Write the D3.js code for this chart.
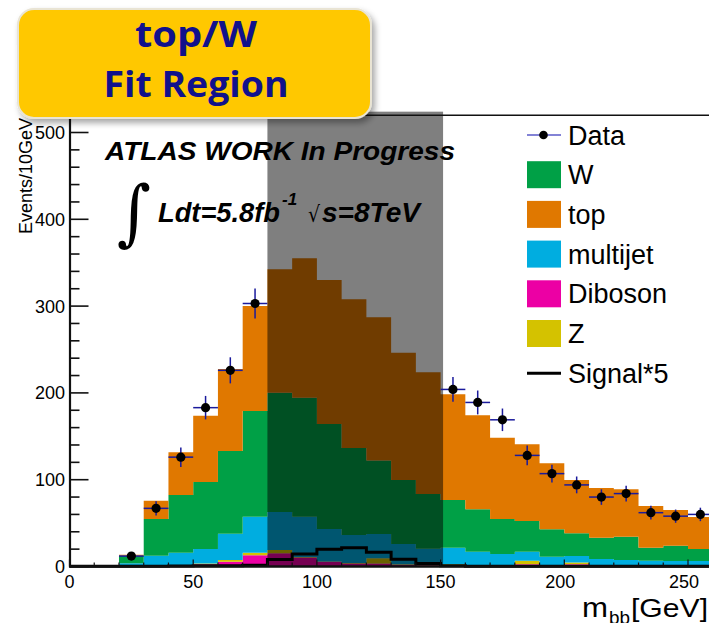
<!DOCTYPE html>
<html>
<head>
<meta charset="utf-8">
<script src="https://cdn.jsdelivr.net/npm/d3@7"></script>
<style>
  body { margin: 0; background: #fff; }
  svg { display: block; }
</style>
</head>
<body>
<svg id="chart" width="709" height="623"></svg>
<script>
// bin edges of the m_bb histogram (GeV)
const binEdges = [0, 10, 20, 30, 40, 50, 60, 70, 80, 90, 100, 110, 120, 130, 140, 150,
                  160, 170, 180, 190, 200, 210, 220, 230, 240, 250, 260]

// stacked backgrounds, one value per bin
const dibosonValues  = [0, 0, 0, 0.5, 1.5, 2.5, 5.5, 13, 15.2, 10.5, 5.5, 3.5, 3.5, 2, 1.5, 1.5, 0.5, 0.5, 2.5, 0.5, 2.5, 0.5, 0.5, 0.5, 0.5, 0.5]
const zValues        = [0, 0, 0, 0, 0.3, 1, 2, 2.7, 3.8, 0.5, 0.3, 0.5, 6, 0.5, 0.5, 1, 0.5, 0.5, 4.2, 0.5, 2, 0.3, 0.3, 0.3, 0.3, 0.3]
const multijetValues = [0, 0, 3.7, 11.9, 14.1, 16.7, 30.3, 41.7, 43.8, 46.4, 37.4, 32.3, 28, 23.4, 18.5, 19.2, 16.1, 13.4, 10.4, 10.3, 7.6, 7.8, 6.7, 5.9, 5.5, 5.5]
const wValues        = [0, 0, 8.7, 42.3, 66.5, 77.2, 95.2, 121.7, 137.4, 137.1, 121, 100.2, 84.5, 73.8, 63, 54.9, 48.8, 40.3, 35.3, 31.6, 26.1, 24.6, 26.8, 15, 17.7, 13.9]
const topValues      = [0, 0, 1.2, 21.1, 49.2, 76.3, 94.5, 121, 142.2, 160.5, 165.8, 171.3, 165.2, 146.6, 140.2, 121.8, 108.3, 93.7, 88.4, 76, 61.5, 57.3, 54.7, 48, 41, 36.8]

// signal scaled by 5, drawn as a line
const signalX5 = [0.3, 0.3, 0.3, 0.3, 0.5, 0.8, 1, 1.5, 8, 14.5, 20, 21.5, 16.5, 8.3, 3.5, 1, 0.3, 0.3, 0.3, 0.3, 0.3, 0.3, 0.3, 0.3, 0.3, 0.3]

// data counts (blinded in the shaded window)
const dataCounts = [null, null, 12, 67, 126, 183, 226, 303, null, null, null, null, null, null, null,
                    204, 189, 169, 128, 107, 94, 80, 84, 62, 58, 60]

const blindWindow = [80, 151]
const blindTop = 524
const frameTop = 520
const xTicks = [0, 50, 100, 150, 200, 250]
const yTicks = [0, 100, 200, 300, 400, 500]

const colors = {
    W: '#00a046',
    top: '#e07800',
    multijet: '#00ade0',
    Diboson: '#ec00a4',
    Z: '#d4c200',
}

const svg = d3.select('#chart')

const x = d3.scaleLinear().domain([0, 260]).range([69.5, 69.5 + 260 * 2.474])
const y = d3.scaleLinear().domain([0, 500]).range([566.5, 132.5])

// stacked histogram
const rows = binEdges.slice(0, -1).map((lo, i) => ({
    lo: lo,
    hi: binEdges[i + 1],
    Diboson: dibosonValues[i],
    Z: zValues[i],
    multijet: multijetValues[i],
    W: wValues[i],
    top: topValues[i],
}))
const stackKeys = ['Diboson', 'Z', 'multijet', 'W', 'top']
const series = d3.stack().keys(stackKeys)(rows)

const area = d3
    .area()
    .x((d) => x(d.x))
    .y0((d) => y(d.y0))
    .y1((d) => y(d.y1))
    .curve(d3.curveStepAfter)

const stepPoints = (s) => {
    const pts = s.map((d) => ({ x: d.data.lo, y0: d[0], y1: d[1] }))
    const last = s[s.length - 1]
    pts.push({ x: last.data.hi, y0: last[0], y1: last[1] })
    return pts
}

svg.append('g')
    .selectAll('path')
    .data(series)
    .enter()
    .append('path')
    .attr('d', (s) => area(stepPoints(s)))
    .attr('fill', (s) => colors[s.key])

// signal line
const sigPts = rows.map((r, i) => ({ x: r.lo, v: signalX5[i] }))
sigPts.push({ x: binEdges[binEdges.length - 1], v: signalX5[signalX5.length - 1] })
svg.append('path')
    .attr('d', d3.line().x((d) => x(d.x)).y((d) => y(d.v)).curve(d3.curveStepAfter)(sigPts))
    .attr('fill', 'none')
    .attr('stroke', '#000')
    .attr('stroke-width', 3)

// blinded window
svg.append('rect')
    .attr('x', x(blindWindow[0]))
    .attr('y', y(blindTop))
    .attr('width', x(blindWindow[1]) - x(blindWindow[0]))
    .attr('height', y(0) - y(blindTop))
    .attr('fill', '#000')
    .attr('fill-opacity', 0.5)

// frame / axes
const axes = svg.append('g').attr('stroke', '#111')
axes.append('line')
    .attr('x1', x(0)).attr('x2', 709)
    .attr('y1', y(frameTop)).attr('y2', y(frameTop))
    .attr('stroke-width', 1.5)
axes.append('line')
    .attr('x1', x(0) + 0.5).attr('x2', x(0) + 0.5)
    .attr('y1', y(frameTop)).attr('y2', y(0) + 1)
    .attr('stroke-width', 2.2)
axes.append('line')
    .attr('x1', x(0)).attr('x2', 709)
    .attr('y1', y(0)).attr('y2', y(0))
    .attr('stroke-width', 2.5)

// y ticks: majors every 100, minors every 20
const yMinor = d3.range(0, frameTop + 1, 20)
axes.selectAll('.ytick')
    .data(yMinor)
    .enter()
    .append('line')
    .attr('x1', x(0))
    .attr('x2', (d) => x(0) + (d % 100 === 0 ? 19 : 10))
    .attr('y1', (d) => y(d))
    .attr('y2', (d) => y(d))
    .attr('stroke-width', 1.6)

const xMinor = d3.range(0, 261, 10)
axes.selectAll('.xtick')
    .data(xMinor)
    .enter()
    .append('line')
    .attr('x1', (d) => x(d))
    .attr('x2', (d) => x(d))
    .attr('y1', y(0))
    .attr('y2', (d) => y(0) - (d % 50 === 0 ? 7 : 4))
    .attr('stroke-width', 1.2)

const labelFont = 'Liberation Sans, Arial, Helvetica, sans-serif'

svg.append('g')
    .selectAll('text')
    .data(yTicks)
    .enter()
    .append('text')
    .attr('x', 65)
    .attr('y', (d) => y(d) + 6.5)
    .attr('text-anchor', 'end')
    .attr('font-family', labelFont)
    .attr('font-size', 18)
    .text((d) => d)

svg.append('g')
    .selectAll('text')
    .data(xTicks)
    .enter()
    .append('text')
    .attr('x', (d) => x(d) - (d >= 200 ? 4 : 0))
    .attr('y', 588)
    .attr('text-anchor', 'middle')
    .attr('font-family', labelFont)
    .attr('font-size', 18)
    .text((d) => d)

svg.append('text')
    .attr('transform', 'translate(32,118) rotate(-90)')
    .attr('text-anchor', 'end')
    .attr('font-family', labelFont)
    .attr('font-size', 18)
    .text('Events/10GeV')

const xTitle = svg.append('g').attr('font-family', labelFont)
xTitle.append('text').attr('x', 582).attr('y', 617).attr('font-size', 27)
    .attr('textLength', 26).attr('lengthAdjust', 'spacingAndGlyphs').text('m')
xTitle.append('text').attr('x', 609).attr('y', 624).attr('font-size', 19)
    .attr('textLength', 21).attr('lengthAdjust', 'spacingAndGlyphs').text('bb')
xTitle.append('text').attr('x', 631).attr('y', 617).attr('font-size', 25)
    .attr('textLength', 77).attr('lengthAdjust', 'spacingAndGlyphs').text('[GeV]')

// data points with poisson errors
const dataPts = rows
    .map((r, i) => ({ lo: r.lo, hi: r.hi, n: dataCounts[i] }))
    .filter((d) => d.n !== null)

const dataG = svg.append('g')
dataG.selectAll('.eh')
    .data(dataPts)
    .enter()
    .append('line')
    .attr('x1', (d) => x(d.lo))
    .attr('x2', (d) => x(d.hi))
    .attr('y1', (d) => y(d.n))
    .attr('y2', (d) => y(d.n))
    .attr('stroke', '#1a1a9c')
    .attr('stroke-width', 1.5)
dataG.selectAll('.ev')
    .data(dataPts)
    .enter()
    .append('line')
    .attr('x1', (d) => x((d.lo + d.hi) / 2))
    .attr('x2', (d) => x((d.lo + d.hi) / 2))
    .attr('y1', (d) => y(d.n - Math.sqrt(d.n)))
    .attr('y2', (d) => y(d.n + Math.sqrt(d.n)))
    .attr('stroke', '#1a1a9c')
    .attr('stroke-width', 1.5)
dataG.selectAll('circle')
    .data(dataPts)
    .enter()
    .append('circle')
    .attr('cx', (d) => x((d.lo + d.hi) / 2))
    .attr('cy', (d) => y(d.n))
    .attr('r', 4.6)
    .attr('fill', '#000')

// ATLAS labels
const biFont = 'Liberation Sans, Arial, Helvetica, sans-serif'
svg.append('text')
    .attr('x', 105).attr('y', 160)
    .attr('font-family', biFont).attr('font-weight', 'bold').attr('font-style', 'italic')
    .attr('font-size', 25)
    .attr('textLength', 350).attr('lengthAdjust', 'spacingAndGlyphs')
    .text('ATLAS WORK In Progress')
svg.append('text')
    .attr('x', 117).attr('y', 237)
    .attr('font-family', 'DejaVu Serif, serif')
    .attr('font-size', 72)
    .attr('textLength', 34).attr('lengthAdjust', 'spacingAndGlyphs')
    .text('∫')
svg.append('text')
    .attr('x', 158).attr('y', 222)
    .attr('font-family', biFont).attr('font-weight', 'bold').attr('font-style', 'italic')
    .attr('font-size', 28)
    .attr('textLength', 122).attr('lengthAdjust', 'spacingAndGlyphs')
    .text('Ldt=5.8fb')
svg.append('text')
    .attr('x', 282).attr('y', 205)
    .attr('font-family', biFont).attr('font-weight', 'bold').attr('font-style', 'italic')
    .attr('font-size', 17)
    .text('-1')
svg.append('text')
    .attr('x', 308).attr('y', 222)
    .attr('font-family', 'DejaVu Sans, sans-serif')
    .attr('font-size', 22)
    .attr('textLength', 12).attr('lengthAdjust', 'spacingAndGlyphs')
    .text('√')
svg.append('text')
    .attr('x', 322).attr('y', 222)
    .attr('font-family', biFont).attr('font-weight', 'bold').attr('font-style', 'italic')
    .attr('font-size', 28)
    .attr('textLength', 98).attr('lengthAdjust', 'spacingAndGlyphs')
    .text('s=8TeV')

// legend
const legendEntries = [
    { label: 'Data', kind: 'data' },
    { label: 'W', kind: 'box', color: colors.W },
    { label: 'top', kind: 'box', color: colors.top },
    { label: 'multijet', kind: 'box', color: colors.multijet },
    { label: 'Diboson', kind: 'box', color: colors.Diboson },
    { label: 'Z', kind: 'box', color: colors.Z },
    { label: 'Signal*5', kind: 'line' },
]
const leg = svg.append('g')
legendEntries.forEach((e, i) => {
    const cy = 135 + i * 39.7
    const g = leg.append('g')
    if (e.kind === 'box') {
        g.append('rect').attr('x', 527).attr('y', cy - 13.5).attr('width', 34).attr('height', 27).attr('fill', e.color)
    } else if (e.kind === 'data') {
        g.append('line').attr('x1', 527).attr('x2', 561).attr('y1', cy).attr('y2', cy)
            .attr('stroke', '#5a5ac8').attr('stroke-width', 1.5)
        g.append('circle').attr('cx', 543.5).attr('cy', cy).attr('r', 4.3).attr('fill', '#000')
    } else {
        g.append('line').attr('x1', 527).attr('x2', 561).attr('y1', cy).attr('y2', cy)
            .attr('stroke', '#000').attr('stroke-width', 3)
    }
    g.append('text')
        .attr('x', 568).attr('y', cy + 9.5)
        .attr('font-family', labelFont).attr('font-size', 27)
        .text(e.label)
})

// title box
const defs = svg.append('defs')
const f = defs.append('filter').attr('id', 'shadow').attr('x', '-10%').attr('y', '-10%').attr('width', '130%').attr('height', '140%')
f.append('feDropShadow').attr('dx', 3).attr('dy', 4).attr('stdDeviation', 3).attr('flood-color', '#000').attr('flood-opacity', 0.35)

const box = svg.append('g')
box.append('rect')
    .attr('x', 18).attr('y', 9).attr('width', 353).attr('height', 109).attr('rx', 16)
    .attr('fill', '#ffc800').attr('stroke', '#e9e4d4').attr('stroke-width', 2)
    .attr('filter', 'url(#shadow)')
const boxFont = 'Open Sans, Lato, sans-serif'
box.append('text')
    .attr('x', 196).attr('y', 47).attr('text-anchor', 'middle')
    .attr('font-family', boxFont).attr('font-weight', 'bold').attr('font-size', 36)
    .attr('fill', '#11118c')
    .attr('textLength', 122).attr('lengthAdjust', 'spacingAndGlyphs')
    .text('top/W')
box.append('text')
    .attr('x', 196).attr('y', 97).attr('text-anchor', 'middle')
    .attr('font-family', boxFont).attr('font-weight', 'bold').attr('font-size', 36)
    .attr('fill', '#11118c')
    .attr('textLength', 185).attr('lengthAdjust', 'spacingAndGlyphs')
    .text('Fit Region')
</script>
</body>
</html>
